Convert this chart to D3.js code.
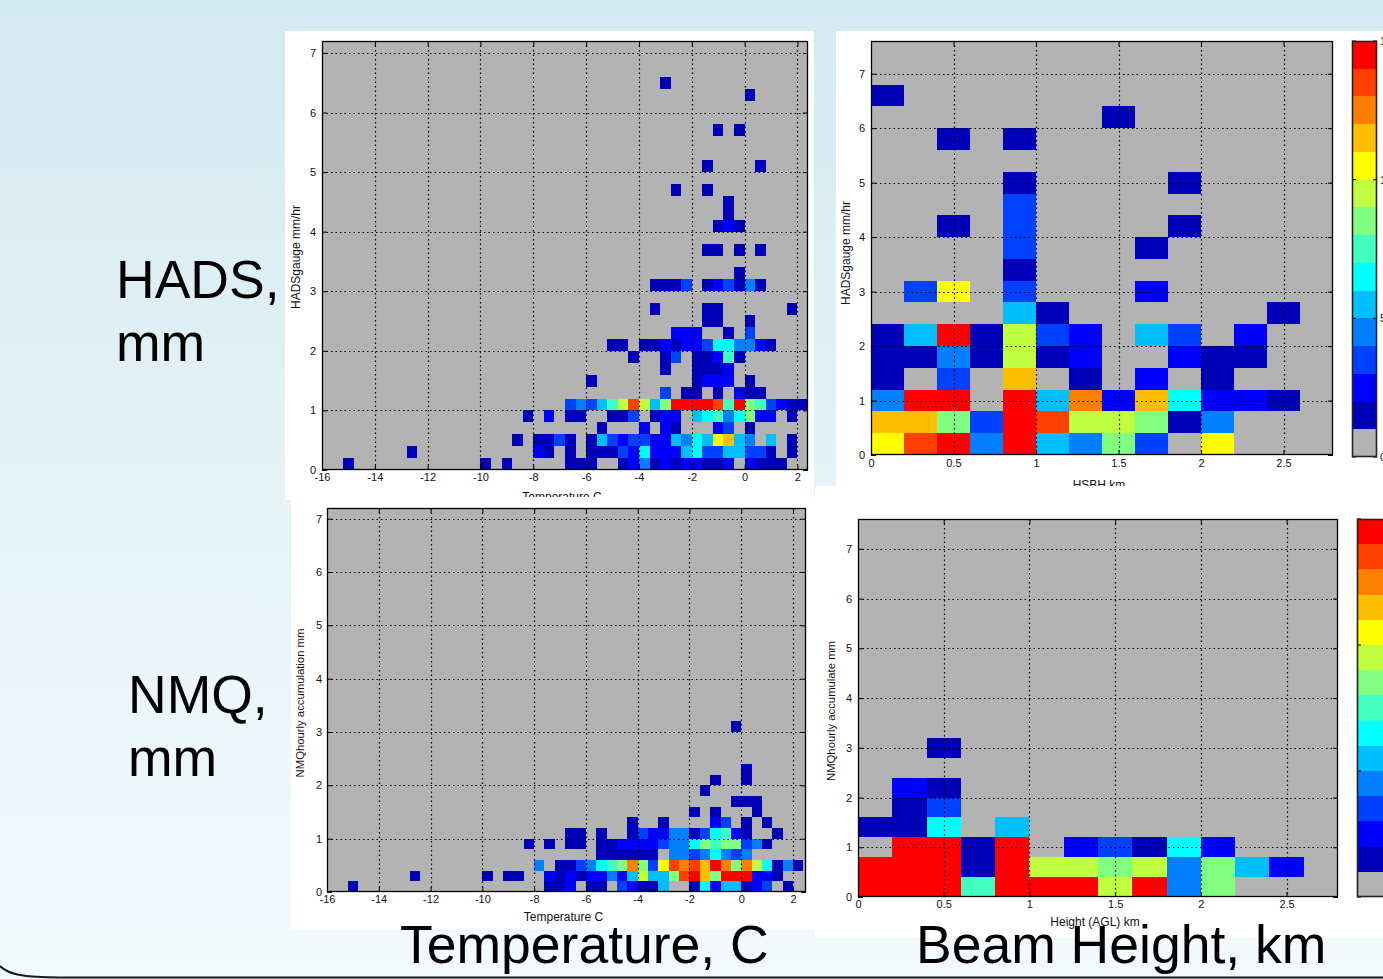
<!DOCTYPE html>
<html>
<head>
<meta charset="utf-8">
<script src="https://cdn.jsdelivr.net/npm/d3@7"></script>
<style>
  html, body { margin: 0; padding: 0; overflow: hidden; background: #fff; }
  svg { display: block; }
</style>
</head>
<body>
<div id="slide"></div>
<script>
{
const width = 1383;
const height = 979;

// counts 0..14 -> grey + jet colours (same as the colour bars)
const levelColors = ['#b3b3b3', '#0000b8', '#0000ff', '#0040ff', '#0080ff', '#00bfff', '#00ffff',
                     '#40ffbf', '#80ff80', '#bfff40', '#ffff00', '#ffbf00', '#ff8000', '#ff4000', '#ff0000'];
const colorbarTicks = [0, 5, 10, 15];

const tempTicks = [-16, -14, -12, -10, -8, -6, -4, -2, 0, 2];
const heightTicks = [0, 0.5, 1, 1.5, 2, 2.5];
const rainTicks = [0, 1, 2, 3, 4, 5, 6, 7];

// 2-D histogram counts. One string per y bin (top bin first), one char per x bin.
// '.' = 0, 1-9, a = 10 ... e = 14. Spaces only group the bins in fives.
// temperature bins: 0.4 C from -16; rain bins: 0.2 mm from 0
const hadsTempCounts = [
  "..... ..... ..... ..... ..... ..... ..... ..... ..... .",
  "..... ..... ..... ..... ..... ..... ..... ..... ..... .",
  "..... ..... ..... ..... ..... ..... ..... ..... ..... .",
  "..... ..... ..... ..... ..... ..... ..1.. ..... ..... .",
  "..... ..... ..... ..... ..... ..... ..... ..... 1.... .",
  "..... ..... ..... ..... ..... ..... ..... ..... ..... .",
  "..... ..... ..... ..... ..... ..... ..... ..... ..... .",
  "..... ..... ..... ..... ..... ..... ..... ..1.1 ..... .",
  "..... ..... ..... ..... ..... ..... ..... ..... ..... .",
  "..... ..... ..... ..... ..... ..... ..... ..... ..... .",
  "..... ..... ..... ..... ..... ..... ..... .1... .1... .",
  "..... ..... ..... ..... ..... ..... ..... ..... ..... .",
  "..... ..... ..... ..... ..... ..... ...1. .1... ..... .",
  "..... ..... ..... ..... ..... ..... ..... ...1. ..... .",
  "..... ..... ..... ..... ..... ..... ..... ...1. ..... .",
  "..... ..... ..... ..... ..... ..... ..... ..121 ..... .",
  "..... ..... ..... ..... ..... ..... ..... ..... ..... .",
  "..... ..... ..... ..... ..... ..... ..... .11.1 .1... .",
  "..... ..... ..... ..... ..... ..... ..... ..... ..... .",
  "..... ..... ..... ..... ..... ..... ..... ....1 ..... .",
  "..... ..... ..... ..... ..... ..... .1113 .1231 41... .",
  "..... ..... ..... ..... ..... ..... ..... ..... ..... .",
  "..... ..... ..... ..... ..... ..... .1... .11.. ....1 .",
  "..... ..... ..... ..... ..... ..... ..... .11.. 1.... .",
  "..... ..... ..... ..... ..... ..... ...22 2..1. 3.... .",
  "..... ..... ..... ..... ..... ..11. 11212 23664 421.. .",
  "..... ..... ..... ..... ..... ....1 ..13. 11271 ..... .",
  "..... ..... ..... ..... ..... ..... ..1.. 1112. ..... .",
  "..... ..... ..... ..... ..... 1.... ..... 1222. 1.... .",
  "..... ..... ..... ..... ..... ..... ..3.1 1.1.2 11... .",
  "..... ..... ..... ..... ...34 3579d 958ee eed7e 87321 1",
  "..... ..... ..... ....1 .2.11 ..113 .122. 56746 822.1 .",
  "..... ..... ..... ..... ..... .1... 2.21. ..23. 1.... .",
  "..... ..... ..... ...1. 1131. 15323 32254 65ab5 4.5.1 .",
  "..... ...1. ..... ..... 21.1. 11132 62225 63355 331.1 .",
  "..1.. ..... ..... 1.1.. ...11 1..12 41212 2112. 2111. ."
];

const nmqTempCounts = [
  "..... ..... ..... ..... ..... ..... ..... ..... ..... .",
  "..... ..... ..... ..... ..... ..... ..... ..... ..... .",
  "..... ..... ..... ..... ..... ..... ..... ..... ..... .",
  "..... ..... ..... ..... ..... ..... ..... ..... ..... .",
  "..... ..... ..... ..... ..... ..... ..... ..... ..... .",
  "..... ..... ..... ..... ..... ..... ..... ..... ..... .",
  "..... ..... ..... ..... ..... ..... ..... ..... ..... .",
  "..... ..... ..... ..... ..... ..... ..... ..... ..... .",
  "..... ..... ..... ..... ..... ..... ..... ..... ..... .",
  "..... ..... ..... ..... ..... ..... ..... ..... ..... .",
  "..... ..... ..... ..... ..... ..... ..... ..... ..... .",
  "..... ..... ..... ..... ..... ..... ..... ..... ..... .",
  "..... ..... ..... ..... ..... ..... ..... ..... ..... .",
  "..... ..... ..... ..... ..... ..... ..... ..... ..... .",
  "..... ..... ..... ..... ..... ..... ..... ..... ..... .",
  "..... ..... ..... ..... ..... ..... ..... ..... ..... .",
  "..... ..... ..... ..... ..... ..... ..... ..... ..... .",
  "..... ..... ..... ..... ..... ..... ..... ..... ..... .",
  "..... ..... ..... ..... ..... ..... ..... ..... ..... .",
  "..... ..... ..... ..... ..... ..... ..... ..... ..... .",
  "..... ..... ..... ..... ..... ..... ..... ....1 ..... .",
  "..... ..... ..... ..... ..... ..... ..... ..... ..... .",
  "..... ..... ..... ..... ..... ..... ..... ..... ..... .",
  "..... ..... ..... ..... ..... ..... ..... ..... ..... .",
  "..... ..... ..... ..... ..... ..... ..... ..... 1.... .",
  "..... ..... ..... ..... ..... ..... ..... ..1.. 1.... .",
  "..... ..... ..... ..... ..... ..... ..... .1... ..... .",
  "..... ..... ..... ..... ..... ..... ..... ....1 11... .",
  "..... ..... ..... ..... ..... ..... ..... 1.1.. .1... .",
  "..... ..... ..... ..... ..... ....1 ..1.. ..23. 1.1.. .",
  "..... ..... ..... ..... ...11 .1..1 32244 13672 1..1. .",
  "..... ..... ..... ....1 .1.11 .1122 22344 68788 341.. .",
  "..... ..... ..... ..... ..... .1111 11.44 34643 4.... .",
  "..... ..... ..... ..... 4.113 4678c 83adc dbec8 c9614 1",
  "..... ...1. ..... 1.11. .2121 22425 9558d eb8ee e221. .",
  "..1.. ..... ..... ..... .112. 11.32 115.. 16255 123.1 ."
];

// height bins: 0.2 km from 0; rain bins: 0.4 mm from 0
const hadsHeightCounts = [
  "..... ..... ....",
  "..... ..... ....",
  "1.... ..... ....",
  "..... ..1.. ....",
  "..1.1 ..... ....",
  "..... ..... ....",
  "....1 ....1 ....",
  "....3 ..... ....",
  "..1.3 ....1 ....",
  "....3 ...1. ....",
  "....1 ..... ....",
  ".3a.3 ...2. ....",
  "....5 1.... ..1.",
  "15e19 32.53 .2..",
  "11419 12..2 11..",
  "1.3.b .1.2. 1...",
  "4ee.e 5c2b6 221.",
  "bb83e d9981 4...",
  "ade4e 5483. a..."
];

const nmqHeightCounts = [
  "..... ..... ....",
  "..... ..... ....",
  "..... ..... ....",
  "..... ..... ....",
  "..... ..... ....",
  "..... ..... ....",
  "..... ..... ....",
  "..... ..... ....",
  "..... ..... ....",
  "..... ..... ....",
  "..... ..... ....",
  "..1.. ..... ....",
  "..... ..... ....",
  ".21.. ..... ....",
  ".13.. ..... ....",
  "116.5 ..... ....",
  ".ee1e .2316 2...",
  "eee1e 99894 852.",
  "eee7e ee9e4 8..."
];

const tickFont = "'Liberation Sans Narrow','Liberation Sans',Arial,sans-serif";
const bigFont = "'Liberation Sans',Arial,sans-serif";

const color = d3.scaleThreshold().domain(d3.range(1, 15)).range(levelColors);

let svg = d3.select('#slide')
    .append('svg')
    .attr('width', width)
    .attr('height', height);

// slide background
let grad = svg.append('defs').append('linearGradient')
    .attr('id', 'bg').attr('x1', 0).attr('y1', 0).attr('x2', 0).attr('y2', 1);
grad.append('stop').attr('offset', '0%').attr('stop-color', '#d2eaf1');
grad.append('stop').attr('offset', '45%').attr('stop-color', '#e3f2f6');
grad.append('stop').attr('offset', '100%').attr('stop-color', '#f3fafc');
svg.append('rect').attr('width', width).attr('height', height).attr('fill', 'url(#bg)');

function whiteBox(x0, y0, x1, y1) {
    svg.append('rect')
        .attr('x', x0).attr('y', y0)
        .attr('width', x1 - x0).attr('height', y1 - y0)
        .attr('fill', '#fff');
}

function parseCounts(rows, xStart, xBin, yBin) {
    const cells = [];
    rows.forEach(function(row, i) {
        const r = rows.length - 1 - i;
        row.replace(/ /g, '').split('').forEach(function(ch, c) {
            const n = ch === '.' ? 0 : parseInt(ch, 16);
            if (n > 0) cells.push({x0: xStart + c * xBin, y0: r * yBin, n: n});
        });
    });
    return cells;
}

function drawPanel(p) {
    const g = svg.append('g');
    const x = d3.scaleLinear().domain(p.xDomain).range([p.left, p.right]);
    const y = d3.scaleLinear().domain(p.yDomain).range([p.bottom, p.top]);

    g.append('rect')
        .attr('x', p.left).attr('y', p.top)
        .attr('width', p.right - p.left).attr('height', p.bottom - p.top)
        .attr('fill', levelColors[0]);

    const cells = parseCounts(p.counts, p.xDomain[0], p.xBin, p.yBin);
    g.selectAll('rect.cell')
        .data(cells)
        .join('rect')
        .attr('class', 'cell')
        .attr('x', d => x(d.x0))
        .attr('y', d => y(d.y0 + p.yBin))
        .attr('width', d => Math.min(x(d.x0 + p.xBin), p.right) - x(d.x0))
        .attr('height', d => y(d.y0) - y(d.y0 + p.yBin))
        .attr('fill', d => color(d.n))
        .attr('shape-rendering', 'crispEdges');

    // dotted grid
    const gx = p.xTicks.filter(t => t > p.xDomain[0] && t < p.xDomain[1]);
    const gy = p.yTicks.filter(t => t > p.yDomain[0] && t < p.yDomain[1]);
    g.selectAll('line.vg').data(gx).join('line')
        .attr('x1', d => Math.round(x(d)) + 0.5).attr('x2', d => Math.round(x(d)) + 0.5)
        .attr('y1', p.top).attr('y2', p.bottom)
        .attr('stroke', '#000').attr('stroke-width', 1.2).attr('stroke-dasharray', '1.5,3');
    g.selectAll('line.hg').data(gy).join('line')
        .attr('y1', d => Math.round(y(d)) + 0.5).attr('y2', d => Math.round(y(d)) + 0.5)
        .attr('x1', p.left).attr('x2', p.right)
        .attr('stroke', '#000').attr('stroke-width', 1.2).attr('stroke-dasharray', '1.5,3');

    const fmt = d => String(d);
    const styleAxis = a => {
        a.select('.domain').remove();
        a.attr('font-family', tickFont).attr('font-size', 11);
        a.selectAll('line').attr('stroke', '#000');
        a.selectAll('text').attr('fill', '#111');
    };
    g.append('g').attr('transform', `translate(0,${p.bottom})`)
        .call(d3.axisBottom(x).tickValues(p.xTicks).tickFormat(fmt).tickSize(-5).tickPadding(p.xPad))
        .call(styleAxis);
    g.append('g').attr('transform', `translate(0,${p.top})`)
        .call(d3.axisTop(x).tickValues(p.xTicks).tickFormat('').tickSize(-5))
        .call(styleAxis);
    g.append('g').attr('transform', `translate(${p.left},0)`)
        .call(d3.axisLeft(y).tickValues(p.yTicks).tickFormat(fmt).tickSize(-5).tickPadding(p.yPad))
        .call(styleAxis);
    g.append('g').attr('transform', `translate(${p.right},0)`)
        .call(d3.axisRight(y).tickValues(p.yTicks).tickFormat('').tickSize(-5))
        .call(styleAxis);

    g.append('rect')
        .attr('x', p.left + 0.5).attr('y', p.top + 0.5)
        .attr('width', p.right - p.left - 1).attr('height', p.bottom - p.top - 1)
        .attr('fill', 'none').attr('stroke', '#000').attr('stroke-width', 1.3);

    g.append('text')
        .attr('x', (p.left + p.right) / 2 - 3).attr('y', p.xLabelY)
        .attr('text-anchor', 'middle')
        .attr('font-family', tickFont).attr('font-size', 12).attr('fill', '#111')
        .text(p.xLabel);
    g.append('text')
        .attr('transform', `translate(${p.yLabelX},${p.yLabelMid}) rotate(-90)`)
        .attr('text-anchor', 'middle')
        .attr('font-family', tickFont).attr('font-size', p.yLabelSize).attr('fill', '#111')
        .text(p.yLabel);
}

function drawColorbar(left, right, top, bottom, withLabels) {
    const g = svg.append('g');
    const y = d3.scaleLinear().domain([0, 15]).range([bottom, top]);
    g.selectAll('rect.band')
        .data(d3.range(0, 15))
        .join('rect')
        .attr('x', left).attr('width', right - left)
        .attr('y', d => y(d + 1)).attr('height', d => y(d) - y(d + 1))
        .attr('fill', d => levelColors[d])
        .attr('shape-rendering', 'crispEdges');
    g.selectAll('line.tl').data(colorbarTicks).join('line')
        .attr('x1', left).attr('x2', left + 4)
        .attr('y1', d => y(d)).attr('y2', d => y(d))
        .attr('stroke', '#000');
    g.selectAll('line.tr').data(colorbarTicks).join('line')
        .attr('x1', right - 4).attr('x2', right)
        .attr('y1', d => y(d)).attr('y2', d => y(d))
        .attr('stroke', '#000');
    g.append('rect')
        .attr('x', left + 0.5).attr('y', top + 0.5)
        .attr('width', right - left - 1).attr('height', bottom - top - 1)
        .attr('fill', 'none').attr('stroke', '#222').attr('stroke-width', 1.6);
    if (withLabels) {
        // the slide crops these labels at its right edge, as in the original
        g.selectAll('text').data(colorbarTicks).join('text')
            .attr('x', right + 3).attr('y', d => y(d) + 4)
            .attr('font-family', tickFont).attr('font-size', 11).attr('fill', '#111')
            .text(d => String(d));
    }
}

// top row
whiteBox(285, 31, 814, 500);
whiteBox(836, 31, width, 486);

drawPanel({counts: hadsTempCounts, xBin: 0.4, yBin: 0.2,
    xDomain: [-16, 2.4], yDomain: [0, 7.2], xTicks: tempTicks, yTicks: rainTicks,
    left: 322, right: 808, top: 41, bottom: 470, xPad: 3, yPad: 6,
    xLabel: 'Temperature C', xLabelY: 501,
    yLabel: 'HADSgauge mm/hr', yLabelX: 300, yLabelMid: 257, yLabelSize: 12});

drawPanel({counts: hadsHeightCounts, xBin: 0.2, yBin: 0.4,
    xDomain: [0, 2.8], yDomain: [0, 7.6], xTicks: heightTicks, yTicks: rainTicks,
    left: 871, right: 1333, top: 41, bottom: 455, xPad: 4, yPad: 6,
    xLabel: 'HSBH km', xLabelY: 489,
    yLabel: 'HADSgauge mm/hr', yLabelX: 850, yLabelMid: 253, yLabelSize: 12});

drawColorbar(1352, 1377, 41, 457, true);

// bottom row
whiteBox(815, 486, width, 938);
whiteBox(291, 497, 815, 929);

drawPanel({counts: nmqTempCounts, xBin: 0.4, yBin: 0.2,
    xDomain: [-16, 2.5], yDomain: [0, 7.2], xTicks: tempTicks, yTicks: rainTicks,
    left: 327, right: 806, top: 508, bottom: 892, xPad: 3, yPad: 5,
    xLabel: 'Temperature C', xLabelY: 921,
    yLabel: 'NMQhourly accumulation mm', yLabelX: 304, yLabelMid: 703, yLabelSize: 11.3});

drawPanel({counts: nmqHeightCounts, xBin: 0.2, yBin: 0.4,
    xDomain: [0, 2.8], yDomain: [0, 7.6], xTicks: heightTicks, yTicks: rainTicks,
    left: 858, right: 1338, top: 519, bottom: 897, xPad: 3, yPad: 6,
    xLabel: 'Height (AGL) km', xLabelY: 926,
    yLabel: 'NMQhourly accumulate mm', yLabelX: 835, yLabelMid: 711, yLabelSize: 11.3});

drawColorbar(1357, 1392, 519, 897, false);

// slide captions
const captions = [
    {text: 'HADS,', x: 116, y: 298},
    {text: 'mm', x: 116, y: 361},
    {text: 'NMQ,', x: 128, y: 713},
    {text: 'mm', x: 128, y: 776},
    {text: 'Temperature, C', x: 400, y: 963},
    {text: 'Beam Height, km', x: 916, y: 963}
];
svg.selectAll('text.caption')
    .data(captions)
    .join('text')
    .attr('class', 'caption')
    .attr('x', d => d.x).attr('y', d => d.y)
    .attr('font-family', bigFont).attr('font-size', 53.5).attr('fill', '#000')
    .text(d => d.text);

// slide bottom edge
svg.append('path')
    .attr('d', `M0,966 C8,974 22,977.5 60,977.5 L${width},977.5`)
    .attr('fill', 'none').attr('stroke', '#1a1a1a').attr('stroke-width', 2);
}
</script>
</body>
</html>
